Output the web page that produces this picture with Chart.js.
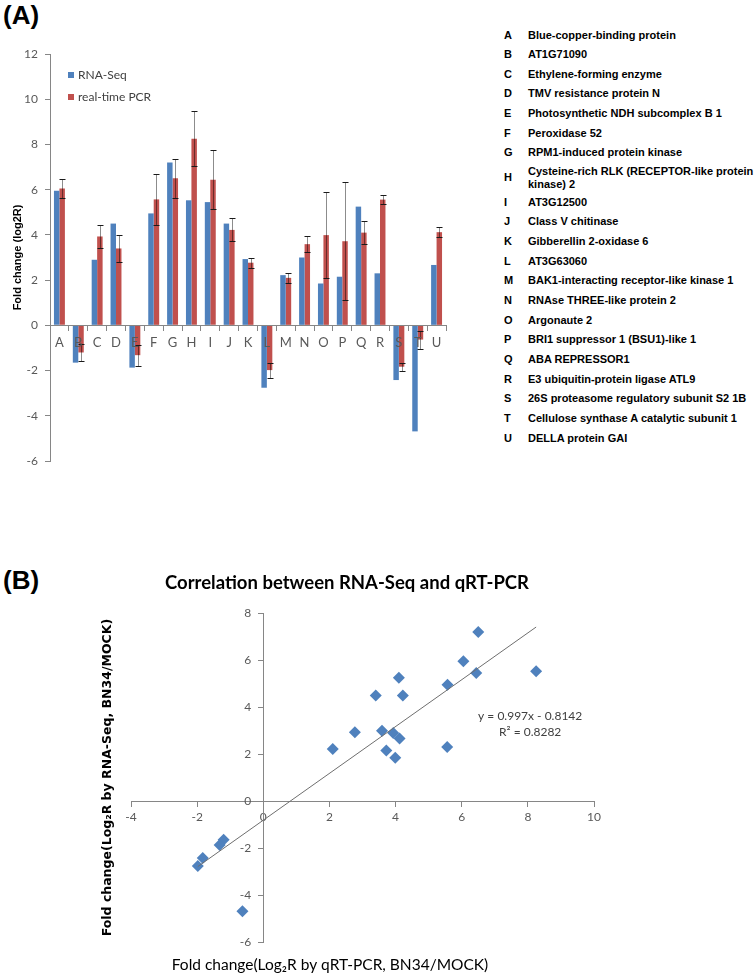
<!DOCTYPE html>
<html>
<head>
<meta charset="utf-8">
<script src="https://cdn.jsdelivr.net/npm/chart.js@4.4.1/dist/chart.umd.min.js"></script>
<style>
body { margin:0; background:#fff; width:756px; height:979px; position:relative; overflow:hidden; font-family:"Liberation Sans", Arial, sans-serif; }
.panel { position:absolute; left:3px; font-weight:bold; font-size:26px; line-height:30px; }
#boxA { position:absolute; left:0; top:0; }
#boxB { position:absolute; left:0; top:560px; }
.g { position:absolute; font-size:11px; font-weight:bold; line-height:13px; color:#000; white-space:nowrap; }
</style>
</head>
<body>
<div class="panel" style="top:0px">(A)</div>
<div class="panel" style="top:565px">(B)</div>
<canvas id="boxA" width="470" height="480"></canvas>
<div id="genes"></div>
<canvas id="boxB" width="756" height="419"></canvas>
<script>
// --- dados
const categories = ["A","B","C","D","E","F","G","H","I","J","K","L","M","N","O","P","Q","R","S","T","U"];
const rnaSeq      = [5.95,-1.65,2.90,4.50,-1.87,4.95,7.20,5.53,5.45,4.50,2.93,-2.76,2.22,3.00,1.85,2.15,5.25,2.30,-2.42,-4.69,2.67];
const realTimePcr = [6.05,-1.20,3.93,3.40,-1.32,5.57,6.50,8.25,6.44,4.22,2.77,-1.98,2.10,3.59,3.99,3.72,4.10,5.56,-1.83,-0.63,4.12];
const pcrError    = [0.43,0.38,0.50,0.60,0.46,1.12,0.86,1.22,1.31,0.51,0.22,0.33,0.22,0.35,1.90,2.60,0.52,0.20,0.18,0.40,0.21];
const geneNames = [
  "Blue-copper-binding protein","AT1G71090","Ethylene-forming enzyme","TMV resistance protein N",
  "Photosynthetic NDH  subcomplex B 1","Peroxidase 52","RPM1-induced protein kinase",
  "Cysteine-rich RLK (RECEPTOR-like protein\nkinase) 2","AT3G12500","Class V chitinase",
  "Gibberellin 2-oxidase 6","AT3G63060","BAK1-interacting receptor-like kinase 1",
  "RNAse THREE-like protein 2","Argonaute 2","BRI1 suppressor 1 (BSU1)-like 1","ABA REPRESSOR1",
  "E3 ubiquitin-protein ligase ATL9","26S proteasome regulatory subunit S2 1B",
  "Cellulose synthase A catalytic subunit 1","DELLA protein GAI"
];
const yTicksA = [-6, 12, 2];   // min, max, passo
const xTicksB = [-4, 10, 2];
const yTicksB = [-6, 8, 2];
const trendSlope = 0.997;
const trendIntercept = -0.8142;
const equationText = "y = 0.997x - 0.8142";
const r2Text = "R\u00b2 = 0.8282";

const BLUE = "#4f81bd", RED = "#c0504d", AXIS = "#868686", TICK = "#595959";

// --- lista de genes (texto)
const genesDiv = document.getElementById("genes");
categories.forEach((c, i) => {
  const yc = 35 + i * 19.65 + (i > 7 ? 10 : (i === 7 ? 5 : 0));
  const lines = geneNames[i].split("\n");
  const l = document.createElement("div");
  l.className = "g"; l.style.left = "504px"; l.style.top = (yc - 6.5) + "px"; l.textContent = c;
  genesDiv.appendChild(l);
  const n = document.createElement("div");
  n.className = "g"; n.style.left = "528px"; n.style.top = (yc - 6.5 * lines.length) + "px";
  n.innerHTML = lines.join("<br>");
  genesDiv.appendChild(n);
});

// --- barras de erro
const errorBars = {
  id: "errorBars",
  afterDatasetsDraw(chart) {
    const meta = chart.getDatasetMeta(1);
    const ys = chart.scales.y;
    const ctx = chart.ctx;
    ctx.save();
    ctx.lineWidth = 1;
    meta.data.forEach((bar, i) => {
      const hi = Math.round(ys.getPixelForValue(realTimePcr[i] + pcrError[i])) + 0.5;
      const lo = Math.round(ys.getPixelForValue(realTimePcr[i] - pcrError[i])) + 0.5;
      const x = Math.round(bar.x) + 0.5;
      ctx.strokeStyle = "rgba(0,0,0,0.45)";
      ctx.beginPath(); ctx.moveTo(x, hi); ctx.lineTo(x, lo); ctx.stroke();
      ctx.strokeStyle = "#1a1a1a";
      ctx.beginPath();
      ctx.moveTo(x - 3, hi); ctx.lineTo(x + 3, hi);
      ctx.moveTo(x - 3, lo); ctx.lineTo(x + 3, lo);
      ctx.stroke();
    });
    ctx.restore();
  }
};

// --- legenda dentro do gráfico
const boxLegend = {
  id: "boxLegend",
  afterDraw(chart) {
    const {ctx, chartArea} = chart;
    ctx.save();
    ctx.font = "12px Lato";
    ctx.textBaseline = "middle";
    chart.data.datasets.forEach((ds, i) => {
      const x = chartArea.left + 18, y = chartArea.top + 21 + i * 22;
      ctx.fillStyle = ds.backgroundColor;
      ctx.fillRect(x, y - 3, 6, 6);
      ctx.fillStyle = "#404040";
      ctx.fillText(ds.label, x + 10, y);
    });
    ctx.restore();
  }
};

new Chart(document.getElementById("boxA"), {
  type: "bar",
  data: {
    labels: categories,
    datasets: [
      { label: "RNA-Seq", data: rnaSeq, backgroundColor: BLUE, categoryPercentage: 0.58, barPercentage: 1 },
      { label: "real-time PCR", data: realTimePcr, backgroundColor: RED, categoryPercentage: 0.58, barPercentage: 1 }
    ]
  },
  options: {
    responsive: false,
    animation: false,
    layout: { padding: { left: 0, top: 54, right: 24, bottom: 19 } },
    plugins: { legend: { display: false }, tooltip: { enabled: false } },
    scales: {
      x: {
        position: { y: 0 },
        grid: { drawOnChartArea: false, tickLength: 5, color: AXIS },
        border: { color: AXIS, z: 1 },
        ticks: { color: TICK, font: { family: "Lato", size: 13 }, padding: 5, z: 1 }
      },
      y: {
        min: yTicksA[0], max: yTicksA[1],
        afterFit: s => { s.width = 50; },
        grid: { drawOnChartArea: false, tickLength: 5, color: AXIS },
        border: { color: AXIS },
        ticks: { stepSize: yTicksA[2], color: TICK, font: { family: "Lato", size: 12 }, padding: 7 },
        title: { display: true, text: "Fold change (log2R)", color: "#000",
                 font: { family: "Liberation Sans", size: 11, weight: "bold" }, padding: { top: 11, bottom: 0 } }
      }
    }
  },
  plugins: [errorBars, boxLegend]
});

// --- textos extras do gráfico de correlação (rótulos do eixo y, equação, título x)
const scatterText = {
  id: "scatterText",
  afterDraw(chart) {
    const {ctx, scales} = chart;
    ctx.save();
    ctx.textBaseline = "middle";
    ctx.fillStyle = TICK;
    ctx.font = "12px Lato";
    ctx.textAlign = "right";
    const x0 = scales.x.getPixelForValue(0);
    scales.y.ticks.forEach(t => {
      ctx.fillText(String(t.value), x0 - 12, scales.y.getPixelForValue(t.value));
    });
    ctx.textAlign = "center";
    ctx.fillStyle = "#404040";
    const ex = scales.x.getPixelForValue(8.07);
    ctx.fillText(equationText, ex, scales.y.getPixelForValue(3.62));
    ctx.fillText(r2Text, ex, scales.y.getPixelForValue(2.94));
    ctx.fillStyle = "#000";
    ctx.font = "15.5px Lato";
    ctx.fillText("Fold change(Log\u2082R by qRT-PCR, BN34/MOCK)", 330, 405);
    ctx.restore();
  }
};

const points = realTimePcr.map((x, i) => ({ x: x, y: rnaSeq[i] }));
const xMin = Math.min(...realTimePcr), xMax = Math.max(...realTimePcr);
const trend = [xMin, xMax].map(x => ({ x: x, y: trendSlope * x + trendIntercept }));

new Chart(document.getElementById("boxB"), {
  type: "scatter",
  data: {
    datasets: [
      { data: points, pointStyle: "rectRot", pointRadius: 6, backgroundColor: BLUE, borderWidth: 0, order: 1 },
      { type: "line", data: trend, borderColor: "#6e6e6e", borderWidth: 1, pointRadius: 0, fill: false, order: 0 }
    ]
  },
  options: {
    responsive: false,
    animation: false,
    layout: { padding: { left: 100, top: 12, right: 162, bottom: 37 } },
    plugins: {
      legend: { display: false },
      tooltip: { enabled: false },
      title: { display: true, text: "Correlation between RNA-Seq and qRT-PCR", color: "#000",
               font: { family: "Lato", size: 18.5, weight: "bold" }, padding: { top: 0, bottom: 19 } }
    },
    scales: {
      x: {
        type: "linear", position: { y: 0 },
        min: xTicksB[0], max: xTicksB[1],
        grid: { drawOnChartArea: false, tickLength: 5, color: AXIS },
        border: { color: AXIS },
        ticks: { stepSize: xTicksB[2], color: TICK, font: { family: "Lato", size: 12 }, padding: 4 }
      },
      y: {
        type: "linear", position: { x: 0 },
        min: yTicksB[0], max: yTicksB[1],
        grid: { drawOnChartArea: false, tickLength: 5, color: AXIS },
        border: { color: AXIS },
        ticks: { stepSize: yTicksB[2], display: false }
      },
      yTitle: {
        type: "linear", position: "left", axis: "y",
        afterFit: s => { s.width = 31; },
        grid: { display: false }, border: { display: false }, ticks: { display: false },
        title: { display: true, text: "Fold change(Log\u2082R by RNA-Seq, BN34/MOCK)", color: "#000",
                 font: { family: "DejaVu Sans", size: 12.5, weight: "bold" }, padding: { top: 0, bottom: 0 } }
      }
    }
  },
  plugins: [scatterText]
});
</script>
</body>
</html>
